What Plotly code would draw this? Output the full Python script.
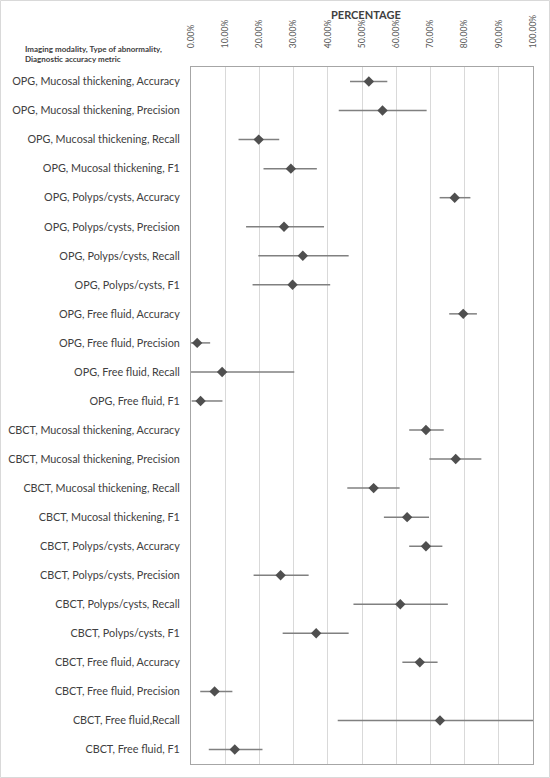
import plotly.graph_objects as go

# rótulos das linhas (modalidade, anomalia, métrica)
labels = [
    "OPG, Mucosal thickening, Accuracy",
    "OPG, Mucosal thickening, Precision",
    "OPG, Mucosal thickening, Recall",
    "OPG, Mucosal thickening, F1",
    "OPG, Polyps/cysts, Accuracy",
    "OPG, Polyps/cysts, Precision",
    "OPG, Polyps/cysts, Recall",
    "OPG, Polyps/cysts, F1",
    "OPG, Free fluid, Accuracy",
    "OPG, Free fluid, Precision",
    "OPG, Free fluid, Recall",
    "OPG, Free fluid, F1",
    "CBCT, Mucosal thickening, Accuracy",
    "CBCT, Mucosal thickening, Precision",
    "CBCT, Mucosal thickening, Recall",
    "CBCT, Mucosal thickening, F1",
    "CBCT, Polyps/cysts, Accuracy",
    "CBCT, Polyps/cysts, Precision",
    "CBCT, Polyps/cysts, Recall",
    "CBCT, Polyps/cysts, F1",
    "CBCT, Free fluid, Accuracy",
    "CBCT, Free fluid, Precision",
    "CBCT, Free fluid,Recall",
    "CBCT, Free fluid, F1",
]

# estimativa pontual e IC
estimate = [0.520, 0.560, 0.198, 0.292, 0.771, 0.272, 0.327, 0.297,
            0.796, 0.018, 0.091, 0.028, 0.687, 0.774, 0.534, 0.632,
            0.687, 0.262, 0.612, 0.366, 0.669, 0.069, 0.728, 0.128]
ci_low = [0.465, 0.432, 0.139, 0.212, 0.727, 0.161, 0.197, 0.180,
          0.755, 0.000, 0.000, 0.002, 0.638, 0.697, 0.457, 0.564,
          0.638, 0.183, 0.475, 0.268, 0.618, 0.027, 0.429, 0.052]
ci_high = [0.574, 0.689, 0.258, 0.368, 0.817, 0.389, 0.461, 0.407,
           0.836, 0.056, 0.302, 0.092, 0.739, 0.849, 0.610, 0.696,
           0.735, 0.344, 0.751, 0.461, 0.721, 0.121, 1.000, 0.209]

ticks = [i / 10 for i in range(11)]

W, H = 550, 778
L, R, T, B = 191, 17, 67, 14
pw, ph = W - L - R, H - T - B

fig = go.Figure()
fig.add_trace(go.Scatter(
    x=estimate,
    y=labels,
    mode="markers",
    marker=dict(symbol="diamond", size=8, color="#4f4f4f"),
    error_x=dict(
        type="data", symmetric=False,
        array=[h - e for h, e in zip(ci_high, estimate)],
        arrayminus=[e - l for e, l in zip(estimate, ci_low)],
        color="#808080", thickness=1.5, width=0,
    ),
    showlegend=False,
    cliponaxis=False,
))

fig.update_layout(
    width=W, height=H,
    margin=dict(l=L, r=R, t=T, b=B, autoexpand=False),
    paper_bgcolor="white", plot_bgcolor="white",
    font=dict(family="Lato", color="#404040"),
    xaxis=dict(
        range=[0, 1], side="top", tickvals=ticks, tickformat=".2%",
        tickangle=-90, tickfont=dict(size=8.5, color="#595959"),
        ticklabelstandoff=16, automargin=False,
        showgrid=True, gridcolor="#d9d9d9", gridwidth=1,
        showline=True, linecolor="#a6a6a6", mirror=True, zeroline=False,
    ),
    yaxis=dict(
        range=[len(labels) - 0.5, -0.5], tickfont=dict(size=10.8, color="#404040"),
        ticklabelstandoff=8, showgrid=False, automargin=False,
        showline=True, linecolor="#a6a6a6", mirror=True,
    ),
    annotations=[
        dict(text="<b>PERCENTAGE</b>", xref="paper", yref="paper",
             x=(366 - L) / pw, y=1 + (T - 14) / ph, xanchor="center", yanchor="middle",
             showarrow=False, font=dict(size=11, color="#404040")),
        dict(text="<b>Imaging modality, Type of abnormality,<br>Diagnostic accuracy metric</b>",
             xref="paper", yref="paper",
             x=(23 - L) / pw, y=1 + (T - 54) / ph, xanchor="left", yanchor="middle",
             align="left", showarrow=False, font=dict(size=8, color="#404040")),
    ],
    shapes=[
        dict(type="rect", xref="paper", yref="paper",
             x0=(0.5 - L) / pw, x1=(W - 0.5 - L) / pw,
             y0=-(B - 0.5) / ph, y1=1 + (T - 0.5) / ph,
             line=dict(color="#d9d9d9", width=1)),
    ],
)

# a página tem margem de 8px por padrão; zera para caber na janela
fig.write_html("out.html", config={"displayModeBar": False},
               post_script="document.body.style.margin='0';")
